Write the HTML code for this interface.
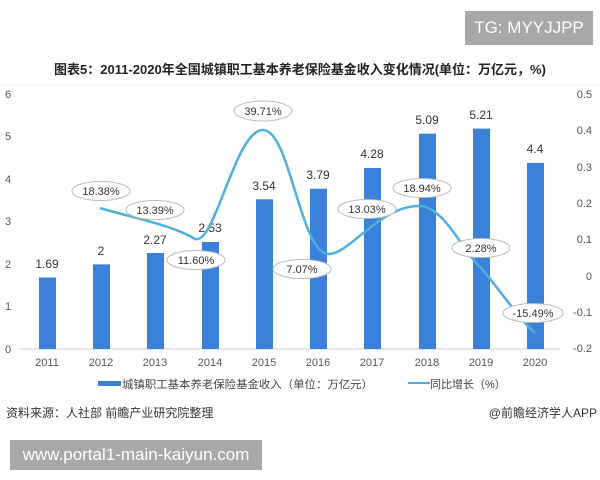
<!DOCTYPE html>
<html><head><meta charset="utf-8"><style>
body{margin:0;width:600px;height:480px;background:#fff;overflow:hidden;position:relative;font-family:"Liberation Sans","Noto Sans CJK SC",sans-serif;}
.tg{position:absolute;left:465px;top:11px;width:128px;height:34px;background:#a8a8a8;color:#fff;font-size:17px;line-height:34px;text-align:center;}
.url{position:absolute;left:10px;top:440px;width:252px;height:30px;background:#a8a8a8;color:#fff;font-size:17px;line-height:30px;text-align:center;}
</style></head><body>
<div class="tg">TG: MYYJJPP</div>
<svg width="600" height="480" style="position:absolute;left:0;top:0" font-family="'Liberation Sans','Noto Sans CJK SC',sans-serif">
<text x="300" y="74" text-anchor="middle" font-size="13" font-weight="bold" fill="#222">图表5：2011-2020年全国城镇职工基本养老保险基金收入变化情况(单位：万亿元，%)</text>
<line x1="0" y1="85" x2="600" y2="85" stroke="#eee"/>
<line x1="20" y1="349" x2="560" y2="349" stroke="#ccc"/>
<g font-size="11" fill="#555">
<text x="5" y="98">6</text><text x="5" y="140">5</text><text x="5" y="183">4</text><text x="5" y="225">3</text><text x="5" y="268">2</text><text x="5" y="310">1</text><text x="5" y="353">0</text>
<g text-anchor="end"><text x="592" y="98">0.5</text><text x="592" y="134">0.4</text><text x="592" y="171">0.3</text><text x="592" y="207">0.2</text><text x="592" y="243">0.1</text><text x="592" y="280">0</text><text x="592" y="316">-0.1</text><text x="592" y="352">-0.2</text></g>
<g text-anchor="middle"><text x="47" y="366">2011</text><text x="101" y="366">2012</text><text x="155" y="366">2013</text><text x="210" y="366">2014</text><text x="264" y="366">2015</text><text x="318" y="366">2016</text><text x="372" y="366">2017</text><text x="427" y="366">2018</text><text x="481" y="366">2019</text><text x="535" y="366">2020</text></g>
</g>
<g fill="#3b80d9">
<rect x="39" y="277.5" width="17" height="71.5"/>
<rect x="93" y="264.4" width="17" height="84.6"/>
<rect x="147" y="253" width="17" height="96"/>
<rect x="202" y="242" width="17" height="107"/>
<rect x="256" y="199.3" width="17" height="149.7"/>
<rect x="310" y="188.7" width="17" height="160.3"/>
<rect x="364" y="168" width="17" height="181"/>
<rect x="419" y="133.7" width="17" height="215.3"/>
<rect x="473" y="128.6" width="17" height="220.4"/>
<rect x="527" y="162.9" width="17" height="186.1"/>
</g>
<g font-size="12" fill="#333" text-anchor="middle">
<text x="47" y="268">1.69</text><text x="101" y="255">2</text><text x="155" y="244">2.27</text><text x="210" y="232">2.53</text><text x="264" y="190">3.54</text><text x="318" y="179">3.79</text><text x="372" y="158">4.28</text><text x="427" y="124">5.09</text><text x="481" y="119">5.21</text><text x="535" y="153">4.4</text>
</g>
<path d="M100,208 C125,216 170,224 195,239 C215,246 235,130 263,130 C290,130 300,252 328,254 C348,256 380,205 420,206 C445,207 465,255 481,268 C500,290 520,320 535,333" fill="none" stroke="#4fb0de" stroke-width="2.5"/>
<g fill="#fff" stroke="#bbb" stroke-width="1">
<ellipse cx="101" cy="191" rx="29" ry="9.5"/><ellipse cx="155" cy="210" rx="29" ry="9.5"/><ellipse cx="196" cy="260" rx="29" ry="9.5"/><ellipse cx="263" cy="111" rx="29" ry="10"/><ellipse cx="302" cy="269" rx="29" ry="9.5"/><ellipse cx="367" cy="209" rx="29" ry="9.5"/><ellipse cx="422" cy="188" rx="29" ry="9.5"/><ellipse cx="481" cy="248" rx="29" ry="9.5"/><ellipse cx="533" cy="313" rx="30" ry="9.5"/>
</g>
<g font-size="11" fill="#333" text-anchor="middle">
<text x="101" y="195">18.38%</text><text x="155" y="214">13.39%</text><text x="196" y="264">11.60%</text><text x="263" y="115">39.71%</text><text x="302" y="273">7.07%</text><text x="367" y="213">13.03%</text><text x="422" y="192">18.94%</text><text x="481" y="252">2.28%</text><text x="533" y="317">-15.49%</text>
</g>
<rect x="98" y="381" width="23" height="5" fill="#3b80d9"/>
<text x="122" y="388" font-size="11" fill="#444" textLength="251" lengthAdjust="spacingAndGlyphs">城镇职工基本养老保险基金收入（单位：万亿元）</text>
<rect x="408" y="382" width="22" height="2" fill="#4fb0de"/>
<text x="430" y="388" font-size="11" fill="#444">同比增长（%）</text>
<text x="6" y="417" font-size="12" fill="#333">资料来源：人社部 前瞻产业研究院整理</text>
<text x="597" y="417" font-size="12" fill="#333" text-anchor="end">@前瞻经济学人APP</text>
</svg>
<div class="url">www.portal1-main-kaiyun.com</div>
</body></html>
